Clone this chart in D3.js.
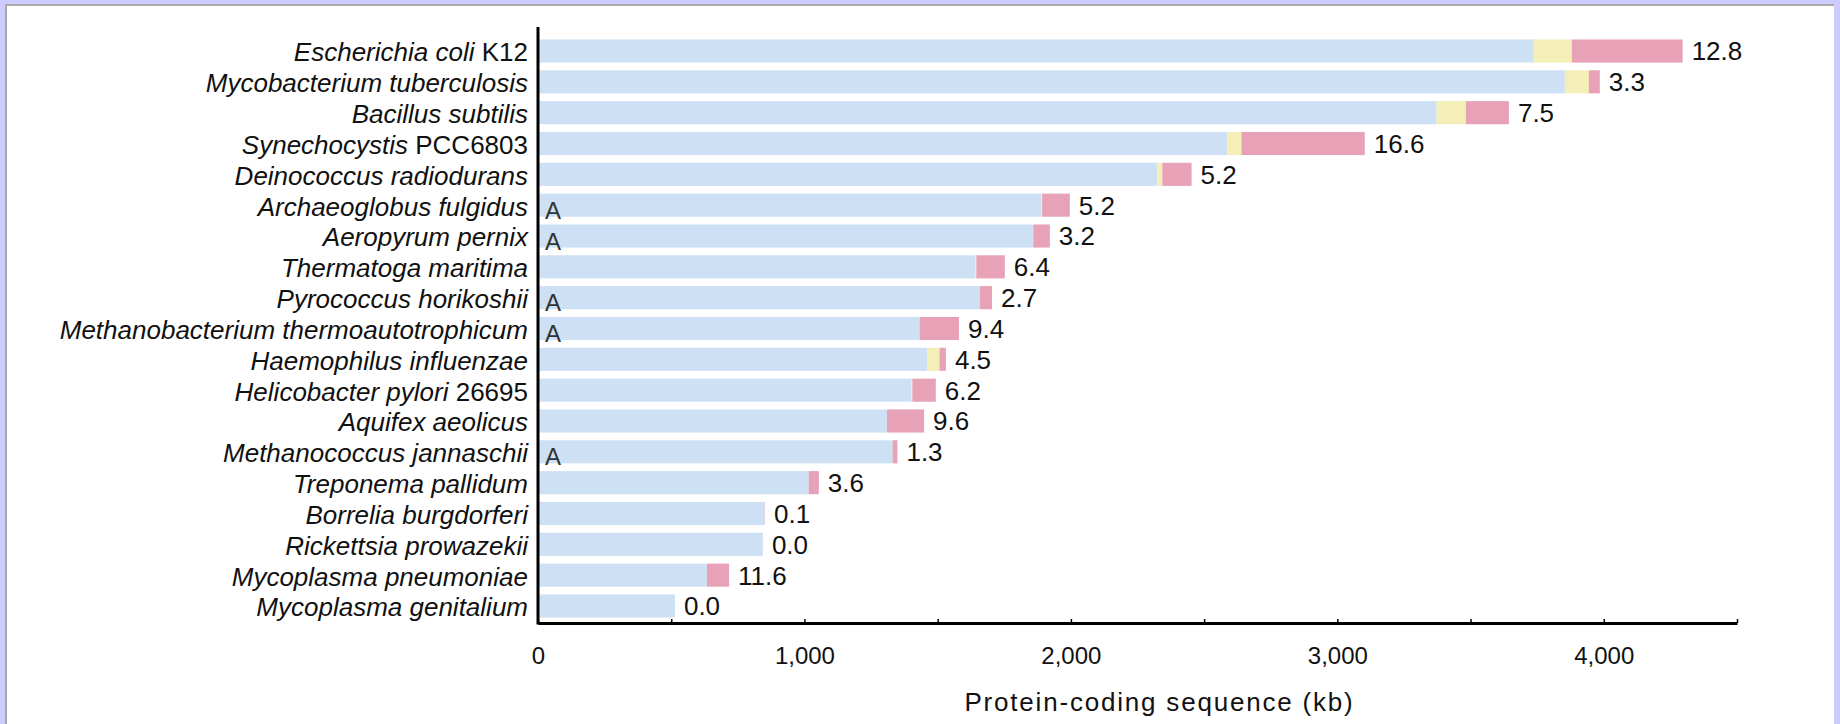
<!DOCTYPE html>
<html>
<head>
<meta charset="utf-8">
<script src="https://cdn.jsdelivr.net/npm/d3@7"></script>
<style>
  html, body { margin: 0; padding: 0; background: #ccccff; }
  #frame {
    position: absolute; left: 5px; top: 4px; width: 1829px; height: 720px;
    background: #fff; border-top: 2px solid #aaa; border-left: 2px solid #aaa;
    box-sizing: border-box;
  }
  svg { position: absolute; left: 0; top: 0; }
  text { font-family: "Liberation Sans", Arial, Helvetica, sans-serif; fill: #111; }
</style>
</head>
<body>
<div id="frame"></div>
<svg id="chart"></svg>
<script>
// genomes, top to bottom
const species = [
  'Escherichia coli', 'Mycobacterium tuberculosis', 'Bacillus subtilis', 'Synechocystis',
  'Deinococcus radiodurans', 'Archaeoglobus fulgidus', 'Aeropyrum pernix', 'Thermatoga maritima',
  'Pyrococcus horikoshii', 'Methanobacterium thermoautotrophicum', 'Haemophilus influenzae',
  'Helicobacter pylori', 'Aquifex aeolicus', 'Methanococcus jannaschii', 'Treponema pallidum',
  'Borrelia burgdorferi', 'Rickettsia prowazekii', 'Mycoplasma pneumoniae', 'Mycoplasma genitalium'
];
// upright strain suffix after the italic name
const strains = [' K12', '', '', ' PCC6803', '', '', '', '', '', '', '', ' 26695', '', '', '', '', '', '', ''];
const archaea = [false, false, false, false, false, true, true, false, true, true, false, false, false, true, false, false, false, false, false];

// protein-coding sequence, kb
const nativeKb      = [3737, 3854, 3373, 2587, 2325, 1888, 1859, 1640, 1658, 1432, 1462, 1400, 1310, 1331, 1016, 851, 844, 634, 514];
const mobileKb      = [143, 90, 109, 53, 18, 4, 0, 5, 0, 0, 45, 5, 0, 0, 0, 0, 0, 0, 0];
const transferredKb = [416, 41, 162, 463, 110, 104, 62, 107, 46, 148, 24, 88, 139, 18, 38, 1, 0, 83, 0];
// percent of sequence acquired laterally
const percent = [12.8, 3.3, 7.5, 16.6, 5.2, 5.2, 3.2, 6.4, 2.7, 9.4, 4.5, 6.2, 9.6, 1.3, 3.6, 0.1, 0.0, 11.6, 0.0];

const xTicks = [0, 500, 1000, 1500, 2000, 2500, 3000, 3500, 4000, 4500];
const xLabel = 'Protein-coding sequence (kb)';

const W = 1840, H = 724;
const margin = { left: 538, right: 1737, top: 27, bottom: 623 };
const keys = ['native', 'mobile', 'transferred'];
const colors = { native: '#cde0f4', mobile: '#f3efb6', transferred: '#e8a2b7' };

const rows = species.map((s, i) => ({
  name: s, strain: strains[i], archaea: archaea[i], pct: percent[i],
  native: nativeKb[i], mobile: mobileKb[i], transferred: transferredKb[i]
}));

const svg = d3.select('#chart').attr('width', W).attr('height', H);

const x = d3.scaleLinear().domain([0, 4500]).range([margin.left, margin.right]);
const y = d3.scaleBand()
  .domain(species)
  .range([35.6, 621.4])
  .paddingInner(0.25)
  .paddingOuter(0.125);

const stacked = d3.stack().keys(keys)(rows);

svg.append('g')
  .selectAll('g')
  .data(stacked)
  .join('g')
    .attr('fill', d => colors[d.key])
  .selectAll('rect')
  .data(d => d)
  .join('rect')
    .attr('x', d => x(d[0]))
    .attr('y', d => y(d.data.name))
    .attr('width', d => Math.max(0, x(d[1]) - x(d[0])))
    .attr('height', y.bandwidth());

// percentage at the end of each bar
svg.append('g')
  .selectAll('text')
  .data(rows)
  .join('text')
    .attr('x', d => x(d.native + d.mobile + d.transferred) + 9)
    .attr('y', d => y(d.name) + y.bandwidth() / 2)
    .attr('dy', '0.36em')
    .style('font-size', '26px')
    .text(d => d.pct.toFixed(1));

// archaea marker
svg.append('g')
  .selectAll('text')
  .data(rows.filter(d => d.archaea))
  .join('text')
    .attr('x', x(0) + 7)
    .attr('y', d => y(d.name) + y.bandwidth() + 2)
    .style('font-size', '24px')
    .style('fill', '#333')
    .text('A');

// species names
const yAxis = d3.axisLeft(y).tickSize(0).tickPadding(10).tickFormat('');
const yAxisG = svg.append('g')
  .attr('transform', `translate(${margin.left},0)`)
  .call(yAxis);
yAxisG.select('.domain').remove();
yAxisG.selectAll('.tick text')
  .attr('dy', '0.40em')
  .style('font-size', '26px')
  .style('font-family', '"Liberation Sans", Arial, sans-serif')
  .attr('fill', '#111')
  .each(function(d, i) {
    const t = d3.select(this);
    t.append('tspan').style('font-style', 'italic').text(rows[i].name);
    if (rows[i].strain) t.append('tspan').text(rows[i].strain);
  });

svg.append('line')
  .attr('x1', margin.left).attr('x2', margin.left)
  .attr('y1', margin.top).attr('y2', margin.bottom + 1.5)
  .attr('stroke', '#000').attr('stroke-width', 3);

// x axis
const xAxis = d3.axisBottom(x)
  .tickValues(xTicks)
  .tickSize(-4)
  .tickSizeOuter(0)
  .tickPadding(24)
  .tickFormat(d => (d % 1000 === 0 ? d3.format(',')(d) : ''));

const xAxisG = svg.append('g')
  .attr('transform', `translate(0,${margin.bottom})`)
  .call(xAxis);
xAxisG.select('.domain').attr('stroke', '#000').attr('stroke-width', 3);
xAxisG.selectAll('.tick line').attr('stroke', '#000').attr('stroke-width', 1.5);
xAxisG.selectAll('.tick text')
  .style('font-size', '24px')
  .style('font-family', '"Liberation Sans", Arial, sans-serif')
  .attr('fill', '#111');

svg.append('text')
  .attr('x', (x(0) + x(4500)) / 2 + 22)
  .attr('y', 711)
  .attr('text-anchor', 'middle')
  .style('font-size', '26px')
  .style('letter-spacing', '1.8px')
  .text(xLabel);
</script>
</body>
</html>
